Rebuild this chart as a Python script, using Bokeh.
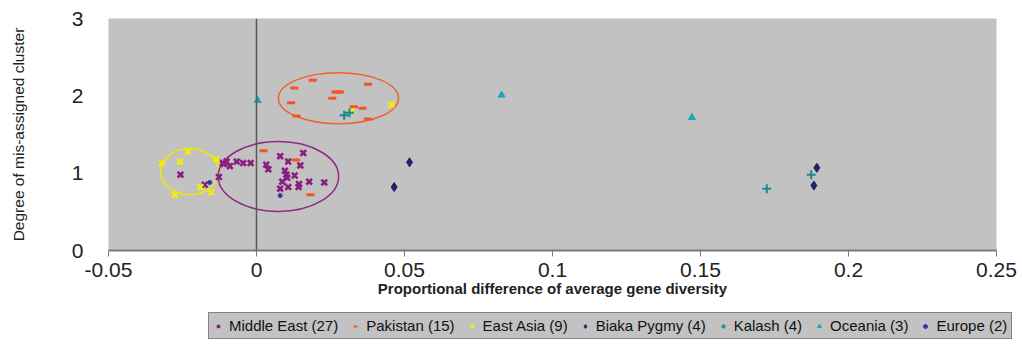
from bokeh.plotting import figure
from bokeh.models import Span, Legend, LegendItem, FixedTicker
from bokeh.layouts import column
from bokeh.embed import file_html
from bokeh.resources import INLINE

# ---- data ----
me_x = [-0.0257, -0.0175, -0.0127, -0.0114, -0.0101, -0.0090, -0.0067, -0.0045, -0.0020,
        0.0080, 0.0158, 0.0107, 0.0033, 0.0040, 0.0148, 0.0096, 0.0101, 0.0129, 0.0087,
        0.0104, 0.0178, 0.0229, 0.0144, 0.0142, 0.0080, 0.0107, -0.0110]
me_y = [0.98, 0.85, 0.95, 1.13, 1.15, 1.09, 1.15, 1.13, 1.13,
        1.22, 1.26, 1.15, 1.11, 1.05, 1.10, 1.03, 0.98, 0.97, 0.89,
        0.94, 0.89, 0.88, 0.86, 0.82, 0.80, 0.82, 1.12]

pk_x = [0.0190, 0.0377, 0.0128, 0.0267, 0.0282, 0.0256, 0.0117, 0.0329, 0.0358,
        0.0135, 0.0376, 0.0024, 0.0134, 0.0182, 0.0275]
pk_y = [2.20, 2.15, 2.10, 2.05, 2.05, 1.97, 1.91, 1.86, 1.84,
        1.74, 1.70, 1.29, 1.17, 0.72, 2.05]

ea_x = [0.0456, 0.0321, -0.0231, -0.0319, -0.0258, -0.0136, -0.0189, -0.0153, -0.0276]
ea_y = [1.89, 1.80, 1.28, 1.13, 1.15, 1.18, 0.82, 0.75, 0.72]

bp_x = [0.0517, 0.0465, 0.1893, 0.1883]
bp_y = [1.14, 0.82, 1.07, 0.84]

ka_x = [0.0296, 0.0314, 0.1724, 0.1874]
ka_y = [1.75, 1.78, 0.80, 0.98]

oc_x = [0.0004, 0.0828, 0.1471]
oc_y = [1.94, 2.01, 1.72]

eu_x = [-0.0158, 0.0080]
eu_y = [0.88, 0.71]

# cluster ellipses: centre x, centre y, width, height
ell_x = [-0.0226, 0.0074, 0.0277]
ell_y = [1.02, 0.957, 1.97]
ell_w = [0.0196, 0.0407, 0.0406]
ell_h = [0.595, 0.905, 0.66]
ell_c = ["#F2E600", "#8E2A84", "#F0602C"]

x_ticks = [-0.05, 0.0, 0.05, 0.1, 0.15, 0.2, 0.25]
x_labels = {-0.05: "-0.05", 0.0: "0", 0.05: "0.05", 0.1: "0.1", 0.15: "0.15", 0.2: "0.2", 0.25: "0.25"}
y_ticks = [0, 1, 2, 3]

series_names = ["Middle East (27)", "Pakistan (15)", "East Asia (9)", "Biaka Pygmy (4)",
                "Kalash (4)", "Oceania (3)", "Europe (2)"]

FONT = "Liberation Sans"

p = figure(width=1022, height=305, x_range=(-0.05, 0.25), y_range=(0, 3),
           output_backend="svg", toolbar_location=None,
           min_border_left=108, min_border_right=26, min_border_top=18, min_border_bottom=55)
p.frame_align = False
p.background_fill_color = "#C2C2C2"
p.border_fill_color = "white"
p.outline_line_color = None
p.xgrid.visible = False
p.ygrid.visible = False

# x axis
xa = p.xaxis[0]
xa.ticker = FixedTicker(ticks=x_ticks)
xa.major_label_overrides = x_labels
xa.axis_line_color = "#7A7A7A"
xa.axis_line_width = 2
xa.major_tick_line_color = "#7A7A7A"
xa.major_tick_out = 6
xa.major_tick_in = 0
xa.minor_tick_line_color = None
xa.major_label_text_font = FONT
xa.major_label_text_font_size = "21px"
xa.major_label_text_color = "#222222"
xa.major_label_standoff = 6
xa.axis_label = "Proportional difference of average gene diversity"
xa.axis_label_text_font = FONT
xa.axis_label_text_font_size = "15px"
xa.axis_label_text_font_style = "bold"
xa.axis_label_text_color = "#222222"
xa.axis_label_standoff = 0

ya = p.yaxis[0]
ya.ticker = FixedTicker(ticks=y_ticks)
ya.axis_line_color = None
ya.major_tick_line_color = None
ya.minor_tick_line_color = None
ya.major_label_text_font = FONT
ya.major_label_text_font_size = "21px"
ya.major_label_text_color = "#222222"
ya.major_label_standoff = 19
ya.axis_label = "Degree of mis-assigned cluster"
ya.axis_label_text_font = FONT
ya.axis_label_text_font_size = "15.5px"
ya.axis_label_text_font_style = "normal"
ya.axis_label_text_color = "#222222"
ya.axis_label_standoff = 42

# vertical axis line at x = 0
p.add_layout(Span(location=0, dimension="height", line_color="#5A5A5A", line_width=1.5))

# ellipses
p.ellipse(x=ell_x, y=ell_y, width=ell_w, height=ell_h, fill_color=None,
          line_color=ell_c, line_width=1.5)

styles = [
    dict(marker="x", size=8, line_color="#8A1E7E", line_width=2.6),
    dict(marker="dash", size=8, line_color="#F05526", line_width=3),
    dict(marker="x", size=8, line_color="#F5F000", line_width=2.2),
    dict(marker="diamond", size=9, fill_color="#23216B", line_color="#23216B"),
    dict(marker="cross", size=9, line_color="#1C8A8C", line_width=2),
    dict(marker="triangle", size=7, fill_color="#1AA7B8", line_color="#1AA7B8"),
    dict(marker="circle", size=4, fill_color="#2F3AA8", line_color="#2F3AA8"),
]
series = [(me_x, me_y), (pk_x, pk_y), (ea_x, ea_y), (bp_x, bp_y),
          (ka_x, ka_y), (oc_x, oc_y), (eu_x, eu_y)]
for (sx, sy), st in zip(series, styles):
    p.scatter(sx, sy, **st)

# legend strip below the chart (its own renderers sit outside its visible range)
p2 = figure(width=1022, height=58, x_range=(1, 2), y_range=(1, 2),
            output_backend="svg", toolbar_location=None,
            x_axis_location=None, y_axis_location=None,
            min_border_left=208, min_border_right=0, min_border_top=7, min_border_bottom=0)
p2.frame_align = False
p2.outline_line_color = None
p2.xgrid.visible = False
p2.ygrid.visible = False
p2.background_fill_color = "white"
p2.border_fill_color = "white"

items = []
for name, (sx, sy), st in zip(series_names, series, styles):
    small = dict(st)
    small["size"] = max(4, st["size"] - 2)
    if "line_width" in small:
        small["line_width"] = min(2, small["line_width"])
    r = p2.scatter(sx, sy, **small)
    items.append(LegendItem(label=name, renderers=[r]))

legend = Legend(items=items, orientation="horizontal", location="top_left")
legend.background_fill_color = "#C2C2C2"
legend.background_fill_alpha = 1
legend.border_line_color = "#444444"
legend.border_line_width = 1
legend.label_text_font = FONT
legend.label_text_font_size = "15px"
legend.label_text_color = "#111111"
legend.glyph_width = 10
legend.glyph_height = 10
legend.label_standoff = 6
legend.spacing = 12
legend.padding = 4
legend.margin = 0
legend.label_height = 14
p2.add_layout(legend, "center")

open("out.html", "w").write(file_html(column(p, p2, spacing=0), INLINE))
